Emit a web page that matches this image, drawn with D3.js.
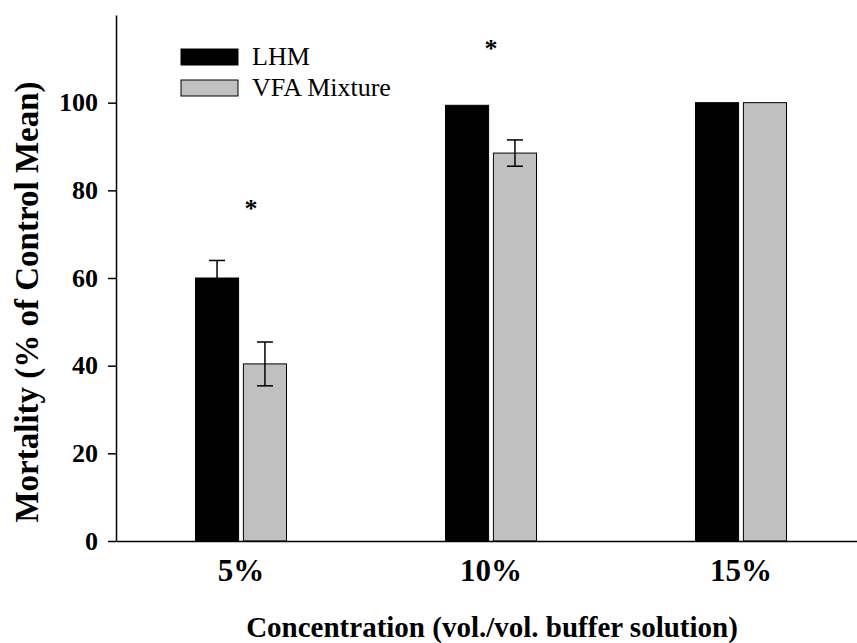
<!DOCTYPE html>
<html><head><meta charset="utf-8">
<script src="https://cdn.jsdelivr.net/npm/d3@7"></script>
<style>body{margin:0;background:#fff}svg{display:block}text{font-family:"Liberation Serif","Times New Roman",serif}</style>
</head><body><svg id="c" width="857" height="643"></svg>
<script>
const categories = ["5%", "10%", "15%"];
const seriesNames = ["LHM", "VFA Mixture"];
const lhmValues = [60.0, 99.4, 100.0];
const lhmErrors = [4.0, 0, 0];
const vfaValues = [40.4, 88.5, 100.0];
const vfaErrors = [5.0, 3.0, 0];
const yTicks = [0, 20, 40, 60, 80, 100];
const asteriskCats = ["5%", "10%"];
const asteriskValues = [76.3, 112.7];
const asteriskOffsets = [10, 0];

const colors = {"LHM": "#000000", "VFA Mixture": "#c0c0c0"};
const svg = d3.select("#c");
const x = d3.scaleBand().domain(categories).range([116, 866]);
const xs = d3.scaleBand().domain(seriesNames).range([-45.5, 45.5]).paddingInner(0.1);
const y = d3.scaleLinear().domain([0, 120]).range([541, 15]);

const rows = [];
categories.forEach((c, i) => {
  rows.push({cat: c, s: "LHM", v: lhmValues[i], e: lhmErrors[i]});
  rows.push({cat: c, s: "VFA Mixture", v: vfaValues[i], e: vfaErrors[i]});
});

// bars
svg.append("g").selectAll("rect").data(rows).join("rect")
  .attr("x", d => x(d.cat) + x.bandwidth()/2 + xs(d.s))
  .attr("y", d => y(d.v))
  .attr("width", xs.bandwidth())
  .attr("height", d => y(0) - y(d.v))
  .attr("fill", d => colors[d.s])
  .attr("stroke", "#000").attr("stroke-width", 1);

// error bars
const eb = svg.append("g").attr("stroke", "#000").attr("stroke-width", 1.5);
rows.filter(d => d.e > 0).forEach(d => {
  const cx = x(d.cat) + x.bandwidth()/2 + xs(d.s) + xs.bandwidth()/2;
  const lo = d.s === "LHM" ? d.v : d.v - d.e;
  eb.append("line").attr("x1", cx).attr("x2", cx).attr("y1", y(lo)).attr("y2", y(d.v + d.e));
  eb.append("line").attr("x1", cx - 8).attr("x2", cx + 8).attr("y1", y(d.v + d.e)).attr("y2", y(d.v + d.e));
  if (d.s !== "LHM") eb.append("line").attr("x1", cx - 8).attr("x2", cx + 8).attr("y1", y(lo)).attr("y2", y(lo));
});

// axes
const yAxis = svg.append("g").attr("transform", "translate(116,0)")
  .call(d3.axisLeft(y).tickValues(yTicks).tickSize(8).tickPadding(10).tickSizeOuter(0));
yAxis.select(".domain").attr("stroke-width", 1.5);
yAxis.selectAll(".tick line").attr("stroke-width", 1.5);
yAxis.selectAll("text").attr("font-size", 26).attr("font-weight", "bold").attr("fill", "#000");

const xAxis = svg.append("g").attr("transform", "translate(0,541)")
  .call(d3.axisBottom(x).tickSize(0).tickPadding(18));
xAxis.select(".domain").attr("stroke-width", 1.5);
xAxis.selectAll("text").attr("font-size", 31).attr("font-weight", "bold").attr("fill", "#000")
  .attr("dy", "0.71em");

// axis titles
svg.append("text").attr("transform", "translate(27,302) rotate(-90)")
  .attr("text-anchor", "middle").attr("dominant-baseline", "central")
  .attr("font-size", 33).attr("font-weight", "bold").text("Mortality (% of Control Mean)");
svg.append("text").attr("x", 492).attr("y", 637)
  .attr("text-anchor", "middle")
  .attr("font-size", 29).attr("font-weight", "bold").text("Concentration (vol./vol. buffer solution)");

// asterisks
svg.append("g").selectAll("text").data(asteriskCats).join("text")
  .attr("x", (d, i) => x(d) + x.bandwidth()/2 + asteriskOffsets[i])
  .attr("y", (d, i) => y(asteriskValues[i]) + 10)
  .attr("text-anchor", "middle").attr("font-size", 26).attr("font-weight", "bold").text("*");

// legend
const lg = svg.append("g").selectAll("g").data(seriesNames).join("g")
  .attr("transform", (d, i) => `translate(181,${49 + i * 31})`);
lg.append("rect").attr("width", 57).attr("height", 16)
  .attr("fill", d => colors[d]).attr("stroke", "#000").attr("stroke-width", 1);
lg.append("text").attr("x", 71).attr("y", 16).attr("font-size", 26).text(d => d);
</script></body></html>
